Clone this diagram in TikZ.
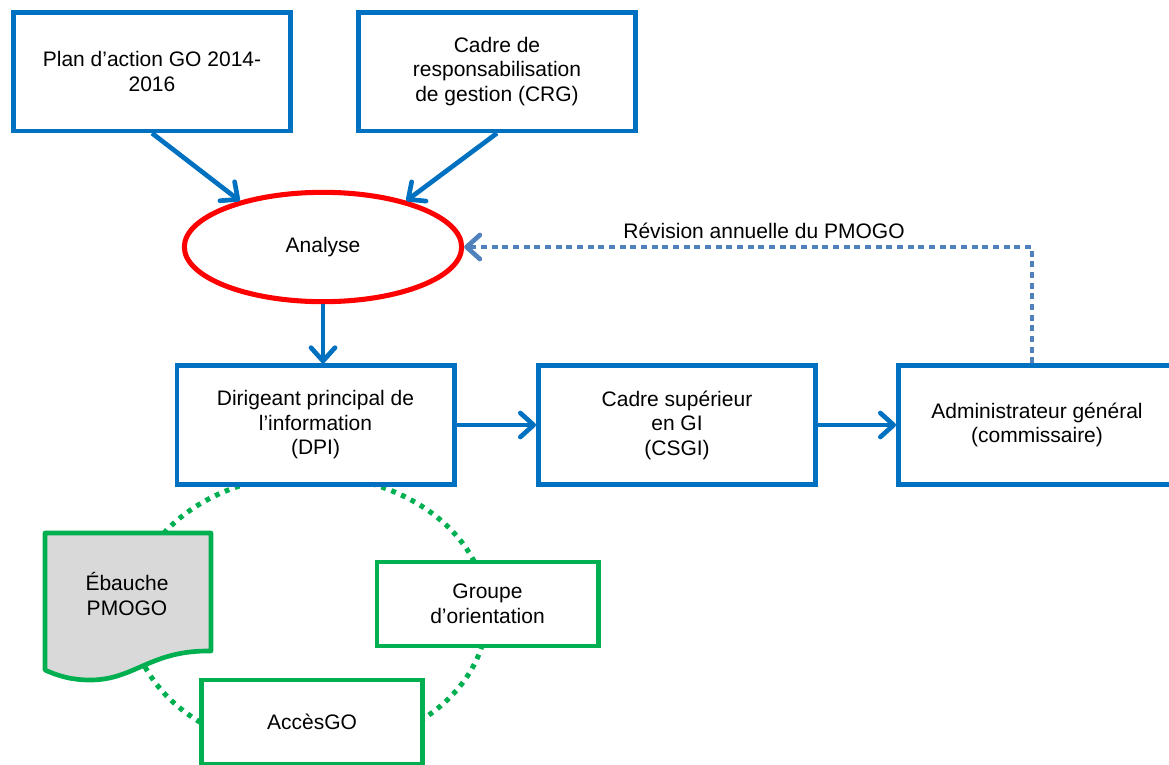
\documentclass[tikz,border=0pt]{standalone}
\usepackage{fontspec}
\setmainfont{Liberation Sans}
\usepackage{xcolor}
\usetikzlibrary{positioning,shapes.geometric,arrows.meta}
\definecolor{boxblue}{HTML}{0070C0}
\definecolor{ovalred}{HTML}{FF0000}
\definecolor{loopgreen}{HTML}{00B050}
\definecolor{revblue}{HTML}{4F81BD}
\definecolor{docgray}{HTML}{D9D9D9}

\begin{document}
\begin{tikzpicture}[x=0.75pt, y=-0.75pt, font=\fontsize{15.75}{18.4}\selectfont,
  bluebox/.style={draw=boxblue, line width=3.5pt, fill=white, minimum width=208pt,
    minimum height=89pt, align=center, inner sep=2pt},
  greenbox/.style={draw=loopgreen, line width=3.5pt, fill=white, minimum width=166pt,
    minimum height=63pt, align=center, inner sep=2pt},
  barb/.style={-{Straight Barb[length=10pt,width=18pt,round]}},
  flow/.style={draw=boxblue, line width=3.5pt, barb}]

  \useasboundingbox (0,0) rectangle (1169,764);
  \clip (0,0) rectangle (1169,764);

  % cycle behind the lower boxes
  \draw[loopgreen, line width=3.8pt, dash pattern=on 3.6pt off 4.4pt]
    (309,613) ellipse [x radius=178, y radius=138];

  \node[bluebox] (plan) at (152,71.5) {Plan d'action GO 2014-\\2016};
  \node[bluebox] (crg)  at (497,71.5) {Cadre de\\responsabilisation\\de gestion (CRG)};

  \node[ellipse, draw=ovalred, line width=3.8pt, fill=white, minimum width=208pt,
    minimum height=82pt] (analyse) at (323,247) {Analyse};

  \node[bluebox] (dpi)   at (315.5,425) {Dirigeant principal de\\l'information\\(DPI)};
  \node[bluebox] (csgi)  at (677,425)   {Cadre supérieur\\en GI\\(CSGI)};
  \node[bluebox] (admin) at (1037,425)  {Administrateur général\\(commissaire)};

  % document shape
  \draw[draw=loopgreen, fill=docgray, line width=3.5pt, line join=round]
    (45,533) -- (211,533) -- (211,651)
    .. controls (150,650) and (135,680) .. (90,680)
    .. controls (70,680) and (56,675) .. (45,670) -- cycle;
  \node[align=center] (ebauche) at (127,594) {Ébauche\\PMOGO};

  \node[greenbox] (groupe) at (487.5,604) {Groupe\\d'orientation};
  \node[greenbox] (acces)  at (312,722)   {AccèsGO};

  \draw[flow] (plan.south) -- (analyse.151);
  \draw[flow] (crg.south) -- (analyse.29);
  \draw[flow] (analyse.south) -- (analyse.south |- dpi.north);
  \draw[flow] (dpi.east) -- (csgi.west);
  \draw[flow] (csgi.east) -- (admin.west);

  \draw[revblue, line width=3.5pt, dash pattern=on 4.5pt off 3.5pt, barb]
    ([xshift=-3.75pt]admin.north) |- (analyse.east)
    node[pos=0.736, above=1pt, text=black] {Révision annuelle du PMOGO};
\end{tikzpicture}
\end{document}
